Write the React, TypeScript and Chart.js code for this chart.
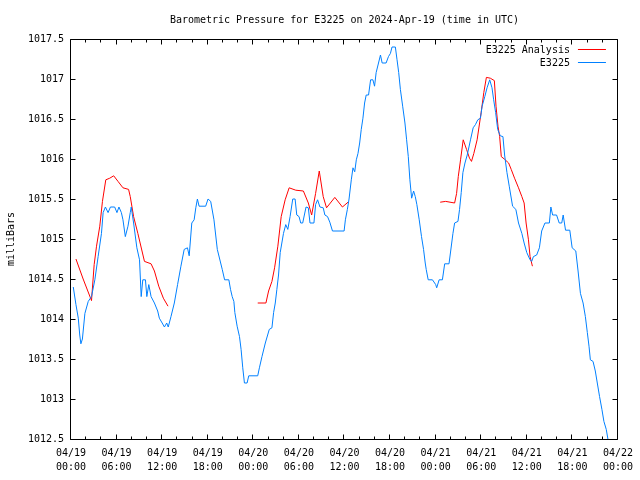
import React, { useEffect, useRef } from 'react';
import { Chart, registerables } from 'chart.js';

Chart.register(...registerables);

const titleText = 'Barometric Pressure for E3225 on 2024-Apr-19 (time in UTC)';
const yAxisLabel = 'milliBars';
const seriesNames = ['E3225 Analysis', 'E3225'];
const seriesColors = ['#ff0000', '#0080ff'];
const yMin = 1012.5;
const yMax = 1017.5;
const yStep = 0.5;
const xMinHours = 0;
const xMaxHours = 72;
const xMajorStep = 6;
const xMinorStep = 2;
const startDay = 19;
const monthLabel = '04';

// E3225 observations: hours since 04/19 00:00 UTC and pressure (mb)
const blueHours = [
  0.3, 0.65, 0.96, 1.15, 1.3, 1.5, 1.83, 2.27, 2.7, 3.14, 3.57, 4.01, 4.23, 4.53, 4.88, 5.19, 5.75, 6.05, 6.31, 6.63,
  6.84, 7.15, 7.5, 7.8, 7.93, 8.24, 8.67, 9.02, 9.24, 9.45, 9.8, 9.98, 10.24, 10.54, 10.98, 11.41, 11.63, 12.0, 12.3, 12.6,
  12.8, 13.16, 13.6, 14.03, 14.47, 14.9, 15.33, 15.56, 15.9, 16.21, 16.43, 16.64, 16.86, 17.73, 18.04, 18.39, 18.82, 19.26, 19.91, 20.22,
  20.78, 21.0, 21.22, 21.44, 21.57, 21.87, 22.18, 22.39, 22.61, 22.83, 23.18, 23.4, 24.58, 24.8, 25.14, 25.58, 26.1, 26.45, 26.67, 26.89,
  27.1, 27.32, 27.54, 27.97, 28.27, 28.54, 28.84, 29.19, 29.5, 29.72, 30.02, 30.24, 30.5, 30.94, 31.24, 31.46, 31.98, 32.2, 32.46, 32.77,
  33.2, 33.42, 33.77, 34.07, 34.42, 35.95, 36.12, 36.38, 36.6, 36.9, 37.12, 37.35, 37.56, 37.78, 38.0, 38.21, 38.43, 38.65, 38.86, 39.17,
  39.44, 39.74, 39.96, 40.17, 40.48, 40.74, 40.96, 41.48, 41.79, 42.05, 42.26, 42.7, 42.92, 43.14, 43.36, 43.66, 43.96, 44.18, 44.4, 44.61,
  44.84, 45.1, 45.32, 45.53, 45.84, 46.14, 46.41, 46.63, 46.76, 47.02, 47.58, 48.01, 48.14, 48.46, 48.89, 49.19, 49.76, 49.98, 50.28, 50.5,
  50.94, 51.15, 51.37, 51.59, 51.86, 52.16, 52.59, 52.94, 53.24, 53.55, 53.9, 54.12, 54.47, 54.77, 55.12, 55.42, 55.64, 55.9, 56.17, 56.51,
  56.86, 57.08, 57.39, 57.69, 58.13, 58.56, 58.91, 59.35, 59.65, 60.0, 60.43, 60.65, 60.87, 61.3, 61.66, 61.96, 62.39, 62.97, 63.17, 63.4,
  63.92, 64.27, 64.6, 64.79, 65.1, 65.66, 65.97, 66.45, 66.75, 67.06, 67.41, 67.71, 67.97, 68.19, 68.37, 68.72, 69.02, 69.28, 69.58, 69.89,
  70.15, 70.46, 70.68,
];
const bluePressure = [
  1014.4, 1014.18, 1014.01, 1013.8, 1013.69, 1013.75, 1014.07, 1014.22, 1014.28, 1014.49, 1014.78, 1015.07, 1015.33, 1015.4, 1015.33, 1015.4, 1015.4, 1015.33, 1015.4, 1015.33,
  1015.24, 1015.03, 1015.16, 1015.33, 1015.4, 1015.2, 1014.89, 1014.74, 1014.28, 1014.49, 1014.49, 1014.28, 1014.43, 1014.28, 1014.2, 1014.1, 1014.01, 1013.95, 1013.9, 1013.95,
  1013.9, 1014.03, 1014.2, 1014.43, 1014.66, 1014.87, 1014.89, 1014.79, 1015.2, 1015.24, 1015.39, 1015.5, 1015.41, 1015.41, 1015.5, 1015.47, 1015.24, 1014.87, 1014.62, 1014.49,
  1014.49, 1014.37, 1014.28, 1014.22, 1014.08, 1013.91, 1013.78, 1013.62, 1013.39, 1013.2, 1013.2, 1013.29, 1013.29, 1013.39, 1013.53, 1013.7, 1013.87, 1013.89, 1014.08, 1014.2,
  1014.37, 1014.55, 1014.83, 1015.07, 1015.18, 1015.12, 1015.28, 1015.5, 1015.5, 1015.3, 1015.28, 1015.2, 1015.2, 1015.4, 1015.39, 1015.2, 1015.2, 1015.43, 1015.49, 1015.4,
  1015.39, 1015.3, 1015.28, 1015.21, 1015.1, 1015.1, 1015.24, 1015.37, 1015.5, 1015.74, 1015.89, 1015.84, 1015.99, 1016.07, 1016.2, 1016.37, 1016.51, 1016.7, 1016.8, 1016.8,
  1016.99, 1016.99, 1016.91, 1017.08, 1017.2, 1017.3, 1017.2, 1017.2, 1017.28, 1017.32, 1017.4, 1017.4, 1017.24, 1017.08, 1016.87, 1016.66, 1016.45, 1016.24, 1016.03, 1015.74,
  1015.51, 1015.6, 1015.53, 1015.43, 1015.24, 1015.03, 1014.87, 1014.7, 1014.62, 1014.49, 1014.49, 1014.43, 1014.39, 1014.49, 1014.49, 1014.69, 1014.69, 1014.85, 1015.07, 1015.2,
  1015.22, 1015.37, 1015.58, 1015.83, 1015.95, 1016.05, 1016.24, 1016.39, 1016.43, 1016.49, 1016.51, 1016.66, 1016.78, 1016.89, 1016.99, 1016.89, 1016.74, 1016.58, 1016.37, 1016.29,
  1016.28, 1016.05, 1015.83, 1015.66, 1015.41, 1015.37, 1015.2, 1015.07, 1014.95, 1014.83, 1014.74, 1014.72, 1014.78, 1014.8, 1014.89, 1015.1, 1015.2, 1015.2, 1015.4, 1015.3,
  1015.3, 1015.2, 1015.2, 1015.3, 1015.11, 1015.11, 1014.89, 1014.85, 1014.6, 1014.32, 1014.2, 1014.03, 1013.83, 1013.66, 1013.49, 1013.47, 1013.35, 1013.2, 1013.03, 1012.87,
  1012.72, 1012.62, 1012.5,
];

// E3225 Analysis: hours since 04/19 00:00 UTC and pressure (mb); null = gap
const redHours = [
  0.65, 1.6, 2.7, 3.05, 3.36, 3.79, 4.14, 4.58, 5.1, 5.62, 6.19, 6.84, 7.58, 7.8, 8.24, 8.8, 9.67, 10.54, 10.98, 11.55,
  12.16, 12.77, 18.0,
  24.58, 25.66, 26.01, 26.45, 26.8, 27.23, 27.67, 28.19, 28.72, 29.59, 30.59, 31.24, 31.68, 32.2, 32.68, 33.2, 33.64, 34.73,
  35.73, 36.47, 42.0,
  48.6, 49.32, 50.5, 50.76, 50.98, 51.28, 51.63, 52.07, 52.46, 52.72, 53.03, 53.46, 53.99, 54.34, 54.68, 55.2, 55.73, 55.95, 56.21, 56.43,
  56.64, 57.04, 57.61, 57.95, 58.39, 58.91, 59.35, 59.65, 59.91, 60.22, 60.43, 60.74,
];
const redPressure: (number | null)[] = [
  1014.75, 1014.5, 1014.23, 1014.68, 1014.91, 1015.16, 1015.47, 1015.74, 1015.76, 1015.79, 1015.72, 1015.64, 1015.62, 1015.53, 1015.28, 1015.07, 1014.72, 1014.69, 1014.6, 1014.41,
  1014.26, 1014.16, null,
  1014.2, 1014.2, 1014.35, 1014.47, 1014.64, 1014.91, 1015.28, 1015.49, 1015.64, 1015.61, 1015.6, 1015.45, 1015.3, 1015.57, 1015.85, 1015.53, 1015.39, 1015.52,
  1015.4, 1015.46, null,
  1015.46, 1015.47, 1015.45, 1015.57, 1015.78, 1015.99, 1016.24, 1016.12, 1016.01, 1015.97, 1016.07, 1016.24, 1016.58, 1016.83, 1017.02, 1017.01, 1016.98, 1016.66, 1016.41, 1016.28,
  1016.03, 1016.0, 1015.95, 1015.87, 1015.76, 1015.64, 1015.53, 1015.45, 1015.2, 1014.99, 1014.78, 1014.66,
];

const FAMILY = '"DejaVu Sans Mono", monospace';
const FONT = '10px ' + FAMILY;

function pad2(n: number) {
  return n < 10 ? '0' + n : String(n);
}

function hourLabel(h: number): string[] {
  const day = startDay + Math.floor(h / 24);
  const hh = h % 24;
  return [monthLabel + '/' + pad2(day), pad2(hh) + ':00'];
}

const framePlugin = {
  id: 'gnuFrame',
  afterDatasetsDraw(chart: any) {
    const { ctx, chartArea, scales } = chart;
    const xs = scales.x;
    const ys = scales.y;
    const xL = Math.round(chartArea.left) - 0.5;
    const xR = Math.round(chartArea.right) - 0.5;
    const yT = Math.round(chartArea.top) + 0.5;
    const yB = Math.round(chartArea.bottom) + 0.5;
    ctx.save();
    ctx.strokeStyle = '#000';
    ctx.lineWidth = 1;
    ctx.beginPath();
    ctx.rect(xL, yT, xR - xL, yB - yT);
    for (let v = yMin; v <= yMax + 1e-9; v += yStep) {
      const py = Math.round(ys.getPixelForValue(v)) + 0.5;
      ctx.moveTo(xL, py);
      ctx.lineTo(xL + 5, py);
      ctx.moveTo(xR, py);
      ctx.lineTo(xR - 5, py);
    }
    for (let h = xMinHours; h <= xMaxHours; h += xMinorStep) {
      const px = Math.round(xs.getPixelForValue(h)) - 0.5;
      const len = h % xMajorStep === 0 ? 5 : 3;
      ctx.moveTo(px, yB);
      ctx.lineTo(px, yB - len);
      ctx.moveTo(px, yT);
      ctx.lineTo(px, yT + len);
    }
    ctx.stroke();

    // title
    ctx.fillStyle = '#000';
    ctx.font = FONT;
    ctx.textAlign = 'center';
    ctx.textBaseline = 'middle';
    ctx.fillText(titleText, (chartArea.left + chartArea.right) / 2, 20);

    // legend
    ctx.textAlign = 'right';
    const textRight = chartArea.right - 48;
    const rows = [50, 63];
    seriesNames.forEach((name, i) => {
      const ry = rows[i];
      ctx.fillStyle = '#000';
      ctx.fillText(name, textRight, ry);
      ctx.strokeStyle = seriesColors[i];
      ctx.beginPath();
      ctx.moveTo(textRight + 8, ry - 0.5);
      ctx.lineTo(textRight + 36, ry - 0.5);
      ctx.stroke();
    });
    ctx.restore();
  },
};

export default function App() {
  const canvasRef = useRef<HTMLCanvasElement | null>(null);

  useEffect(() => {
    const canvas = canvasRef.current;
    if (!canvas) return;
    const redData = redHours.map((h, i) => ({ x: h, y: redPressure[i] }));
    const blueData = blueHours.map((h, i) => ({ x: h, y: bluePressure[i] }));
    const chart = new Chart(canvas, {
      type: 'line',
      data: {
        datasets: [
          {
            label: seriesNames[1],
            data: blueData,
            borderColor: seriesColors[1],
            backgroundColor: seriesColors[1],
            borderWidth: 1,
            pointRadius: 0,
            tension: 0,
            spanGaps: false,
          },
          {
            label: seriesNames[0],
            data: redData as any,
            borderColor: seriesColors[0],
            backgroundColor: seriesColors[0],
            borderWidth: 1,
            pointRadius: 0,
            tension: 0,
            spanGaps: false,
          },
        ],
      },
      options: {
        responsive: false,
        animation: false,
        devicePixelRatio: 1,
        layout: { padding: { top: 39, right: 18, left: 0, bottom: 0 } },
        plugins: {
          legend: { display: false },
          title: { display: false },
          tooltip: { enabled: false },
        },
        scales: {
          x: {
            type: 'linear',
            min: xMinHours,
            max: xMaxHours,
            grid: { display: false, drawTicks: false },
            border: { display: false },
            ticks: {
              stepSize: xMajorStep,
              autoSkip: false,
              maxRotation: 0,
              padding: 7,
              color: '#000',
              font: { family: FAMILY, size: 10, lineHeight: 1.4 },
              callback: (v: any) => hourLabel(Number(v)),
            },
            afterFit: (s: any) => {
              s.height = 41;
            },
          },
          y: {
            type: 'linear',
            min: yMin,
            max: yMax,
            grid: { display: false, drawTicks: false },
            border: { display: false },
            title: {
              display: true,
              text: yAxisLabel,
              color: '#000',
              font: { family: FAMILY, size: 10 },
              padding: { top: 5, bottom: 0 },
            },
            ticks: {
              stepSize: yStep,
              padding: 7,
              color: '#000',
              font: { family: FAMILY, size: 10 },
              callback: (v: any) => String(Number(v)),
            },
            afterFit: (s: any) => {
              s.width = 71;
            },
          },
        },
      },
      plugins: [framePlugin],
    });
    return () => chart.destroy();
  }, []);

  return (
    <div style={{ position: 'fixed', left: 0, top: 0, width: 640, height: 480, background: '#fff' }}>
      <canvas ref={canvasRef} width={640} height={480} style={{ display: 'block', width: 640, height: 480 }} />
    </div>
  );
}
